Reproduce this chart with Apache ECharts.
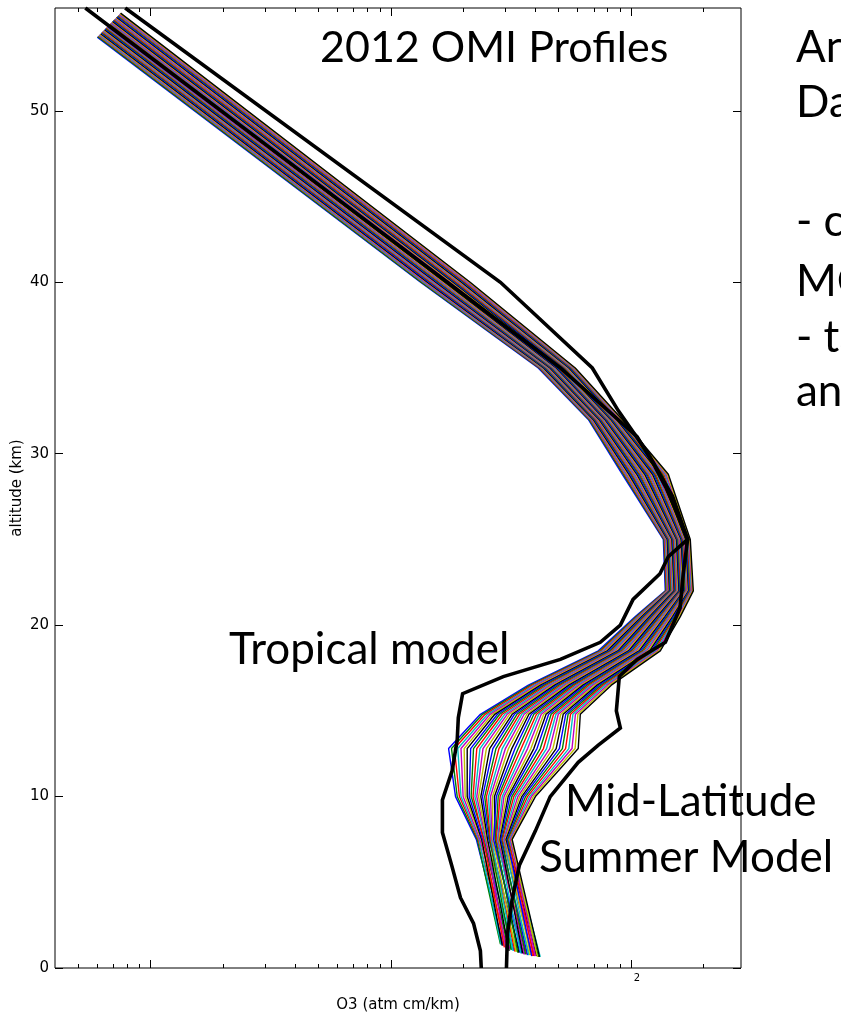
<!DOCTYPE html>
<html>
<head>
<meta charset="utf-8">
<title>2012 OMI Profiles</title>
<script src="https://cdn.jsdelivr.net/npm/echarts@6/dist/echarts.min.js"></script>
<style>
  html, body { margin: 0; padding: 0; background: #ffffff; overflow: hidden; }
  #chart { width: 841px; height: 1013px; }
</style>
</head>
<body>
<div id="chart"></div>
<script>
// ---- Ozone profiles, values in 1e-3 atm cm/km ----
const MILLI = 1e-3;

// Retrieval levels shared by all profiles (km)
const levelAlt = [7.5, 10, 12.8, 14.8, 16.5, 18.5, 20.5, 22, 25, 28.8, 32, 35, 40];

// Lowest and highest altitude of each profile (km)
const baseAlt = [1.3, 1.4, 1.2, 1.35, 1.1, 1.25, 1.3, 1.0, 1.15, 1.2, 1.05, 1.1, 0.95, 1.0, 0.9, 1.05, 0.95, 1.0, 0.8, 0.95, 0.9,
                 0.85, 0.9, 0.8, 0.85, 0.8, 0.75, 0.85, 0.75, 0.8, 0.7, 0.75, 0.7, 0.75, 0.7, 0.7, 0.65, 0.7, 0.65, 0.7, 0.65, 0.65];
const topAlt = [54.30, 54.33, 54.37, 54.40, 54.44, 54.47, 54.50, 54.54, 54.57, 54.61, 54.64, 54.68, 54.71, 54.74, 54.78, 54.81, 54.85,
                54.88, 54.91, 54.95, 54.98, 55.02, 55.05, 55.09, 55.12, 55.15, 55.19, 55.22, 55.26, 55.29, 55.32, 55.36, 55.39, 55.43,
                55.46, 55.49, 55.53, 55.56, 55.60, 55.63, 55.67, 55.70];

const o3Base = [2.94, 2.86, 3.05, 2.88, 3.14, 2.99, 2.91, 3.26, 3.08, 2.97, 3.20, 3.02, 3.35, 3.11, 3.45, 3.17, 3.29, 3.23, 3.58, 3.32, 3.41,
                3.51, 3.38, 3.68, 3.48, 3.61, 3.78, 3.54, 3.71, 3.64, 3.89, 3.75, 3.97, 3.82, 4.04, 3.86, 4.12, 3.93, 4.19, 4.00, 4.08, 4.16];
const o3L7 = [2.27, 2.29, 2.31, 2.33, 2.35, 2.38, 2.39, 2.41, 2.45, 2.43, 2.47, 2.49, 2.51, 2.53, 2.56, 2.58, 2.60, 2.62, 2.64, 2.66, 2.72,
              2.68, 2.73, 2.75, 2.78, 2.80, 2.82, 2.85, 2.87, 2.90, 2.92, 2.95, 2.97, 3.00, 3.02, 3.05, 3.07, 3.10, 3.12, 3.15, 3.18, 3.20];
const o3L10 = [1.86, 1.89, 1.93, 1.96, 2.00, 2.04, 2.08, 2.12, 2.16, 2.20, 2.24, 2.28, 2.32, 2.37, 2.41, 2.46, 2.50, 2.55, 2.60, 2.65, 2.70,
               2.75, 2.80, 2.85, 2.91, 2.96, 3.02, 3.08, 3.13, 3.19, 3.25, 3.31, 3.38, 3.44, 3.51, 3.57, 3.64, 3.71, 3.78, 3.85, 3.92, 4.00];
const o3L13 = [1.74, 1.79, 1.84, 1.90, 1.96, 2.02, 2.08, 2.15, 2.21, 2.28, 2.35, 2.42, 2.50, 2.58, 2.66, 2.74, 2.82, 2.91, 3.00, 3.09, 3.19,
               3.29, 3.39, 3.49, 3.60, 3.71, 3.83, 3.94, 4.06, 4.19, 4.32, 4.45, 4.59, 4.73, 4.88, 5.03, 5.18, 5.34, 5.51, 5.68, 5.85, 6.03];
const o3L15 = [2.36, 2.41, 2.47, 2.53, 2.59, 2.65, 2.71, 2.78, 2.84, 2.91, 2.98, 3.05, 3.12, 3.20, 3.27, 3.35, 3.43, 3.51, 3.59, 3.68, 3.76,
               3.85, 3.94, 4.04, 4.13, 4.23, 4.33, 4.43, 4.54, 4.65, 4.76, 4.87, 4.98, 5.10, 5.22, 5.35, 5.47, 5.60, 5.73, 5.87, 6.01, 6.15];
const o3L16 = [3.74, 3.81, 3.88, 3.96, 4.04, 4.12, 4.20, 4.28, 4.36, 4.45, 4.54, 4.63, 4.72, 4.81, 4.90, 5.00, 5.10, 5.20, 5.30, 5.40, 5.51,
               5.62, 5.73, 5.84, 5.95, 6.07, 6.19, 6.31, 6.43, 6.56, 6.69, 6.82, 6.95, 7.09, 7.23, 7.37, 7.52, 7.66, 7.81, 7.97, 8.12, 8.28];
const o3L18 = [7.31, 7.42, 7.52, 7.63, 7.75, 7.86, 7.97, 8.09, 8.21, 8.33, 8.45, 8.57, 8.70, 8.82, 8.95, 9.08, 9.22, 9.35, 9.49, 9.63, 9.77,
               9.91, 10.05, 10.20, 10.35, 10.50, 10.65, 10.81, 10.97, 11.13, 11.29, 11.45, 11.62, 11.79, 11.96, 12.14, 12.31, 12.49, 12.67, 12.86, 13.05, 13.24];
const o3L20 = [10.42, 10.53, 10.64, 10.75, 10.87, 10.98, 11.10, 11.22, 11.33, 11.45, 11.57, 11.70, 11.82, 11.95, 12.07, 12.20, 12.33, 12.46, 12.59, 12.73, 12.86,
               13.00, 13.13, 13.27, 13.41, 13.56, 13.70, 13.85, 13.99, 14.14, 14.29, 14.44, 14.59, 14.75, 14.90, 15.06, 15.22, 15.38, 15.54, 15.71, 15.87, 16.04];
const o3L22 = [13.89, 13.98, 14.07, 14.17, 14.26, 14.36, 14.45, 14.55, 14.64, 14.74, 14.83, 14.93, 15.03, 15.13, 15.23, 15.33, 15.43, 15.53, 15.63, 15.73, 15.84,
               15.94, 16.05, 16.15, 16.26, 16.36, 16.47, 16.58, 16.69, 16.80, 16.91, 17.02, 17.13, 17.24, 17.36, 17.47, 17.59, 17.70, 17.82, 17.94, 18.05, 18.17];
const o3L25 = [13.63, 13.72, 13.80, 13.89, 13.98, 14.07, 14.16, 14.25, 14.34, 14.43, 14.52, 14.61, 14.70, 14.80, 14.89, 14.99, 15.08, 15.18, 15.27, 15.37, 15.47,
               15.57, 15.66, 15.76, 15.86, 15.96, 16.07, 16.17, 16.27, 16.38, 16.48, 16.59, 16.69, 16.80, 16.90, 17.01, 17.12, 17.23, 17.34, 17.45, 17.56, 17.65];
const o3L29 = [9.20, 9.30, 9.40, 9.50, 9.60, 9.71, 9.81, 9.92, 10.03, 10.13, 10.24, 10.35, 10.47, 10.58, 10.69, 10.81, 10.93, 11.04, 11.16, 11.28, 11.41,
               11.53, 11.66, 11.78, 11.91, 12.04, 12.17, 12.30, 12.43, 12.57, 12.70, 12.84, 12.98, 13.12, 13.26, 13.41, 13.55, 13.70, 13.85, 14.00, 14.15, 14.30];
const o3L32 = [6.64, 6.69, 6.75, 6.80, 6.85, 6.91, 6.96, 7.02, 7.07, 7.13, 7.19, 7.24, 7.30, 7.36, 7.42, 7.48, 7.54, 7.60, 7.66, 7.72, 7.78,
               7.84, 7.91, 7.97, 8.03, 8.10, 8.16, 8.23, 8.29, 8.36, 8.43, 8.49, 8.56, 8.63, 8.70, 8.77, 8.84, 8.91, 8.98, 9.05, 9.13, 9.20];
const o3L35 = [4.11, 4.15, 4.18, 4.22, 4.26, 4.29, 4.33, 4.37, 4.41, 4.45, 4.48, 4.52, 4.56, 4.60, 4.64, 4.68, 4.72, 4.76, 4.81, 4.85, 4.89,
               4.93, 4.98, 5.02, 5.06, 5.11, 5.15, 5.20, 5.24, 5.29, 5.33, 5.38, 5.43, 5.47, 5.52, 5.57, 5.62, 5.67, 5.72, 5.77, 5.82, 5.86];
const o3L40 = [1.33, 1.34, 1.36, 1.37, 1.39, 1.41, 1.42, 1.44, 1.46, 1.47, 1.49, 1.51, 1.53, 1.54, 1.56, 1.58, 1.60, 1.62, 1.64, 1.66, 1.68,
               1.70, 1.72, 1.74, 1.76, 1.78, 1.80, 1.82, 1.84, 1.86, 1.88, 1.91, 1.93, 1.95, 1.97, 2.00, 2.02, 2.04, 2.07, 2.09, 2.12, 2.14];
const o3Top = [0.0600, 0.0603, 0.0607, 0.0610, 0.0613, 0.0616, 0.0620, 0.0623, 0.0626, 0.0630, 0.0633, 0.0637, 0.0640, 0.0644, 0.0647, 0.0651, 0.0654,
               0.0658, 0.0661, 0.0665, 0.0669, 0.0672, 0.0676, 0.0680, 0.0683, 0.0687, 0.0691, 0.0695, 0.0698, 0.0702, 0.0706, 0.0710, 0.0714, 0.0718,
               0.0722, 0.0726, 0.0730, 0.0734, 0.0738, 0.0742, 0.0746, 0.0750];

// Standard atmosphere models (altitude km / ozone 1e-3 atm cm/km)
const tropAlt = [0, 1, 2.6, 4.1, 5.9, 7.9, 9.8, 11.5, 13.3, 14.6, 16, 17, 18, 19, 20, 21.5, 23, 24, 25, 27.5, 30, 32.5, 35, 40, 56];
const tropO3 = [2.38, 2.36, 2.21, 1.95, 1.80, 1.64, 1.64, 1.80, 1.89, 1.91, 1.99, 2.94, 5.08, 7.45, 9.03, 10.2, 13.2, 14.3, 17.2, 14.9, 11.8, 8.86, 6.90, 2.86, 0.0784];
const mlsAlt = [0, 2, 4, 6, 8, 10, 12, 13, 14, 15, 17, 18, 19, 21, 23, 25, 26.5, 28, 29.5, 31, 35, 40, 56];
const mlsO3 = [3.03, 3.06, 3.20, 3.43, 4.00, 4.61, 6.03, 7.31, 9.03, 8.69, 8.94, 10.6, 13.9, 16.0, 16.5, 17.2, 15.6, 14.0, 12.3, 10.6, 5.08, 1.72, 0.0535];

// Axis ticks (atm cm/km and km)
const X_MIN = 4.0e-5;
const X_MAX = 2.87e-2;
const xMajorTicks = [1e-4, 1e-3, 1e-2];
const xMinorTicks = [5e-5, 6e-5, 7e-5, 8e-5, 9e-5, 2e-4, 3e-4, 4e-4, 5e-4, 6e-4, 7e-4, 8e-4, 9e-4,
                     2e-3, 3e-3, 4e-3, 5e-3, 6e-3, 7e-3, 8e-3, 9e-3, 2e-2];
const xTickLabels = [1e-2];
const yTicks = [0, 10, 20, 30, 40, 50];

// Classic line colour cycle
const cycle = ['#0000ff', '#008000', '#ff0000', '#00bfbf', '#bf00bf', '#bfbf00', '#000000'];

const levelO3 = [o3L7, o3L10, o3L13, o3L15, o3L16, o3L18, o3L20, o3L22, o3L25, o3L29, o3L32, o3L35, o3L40];

const profileSeries = baseAlt.map((b, i) => {
  const pts = [[o3Base[i] * MILLI, b]];
  levelAlt.forEach((a, k) => pts.push([levelO3[k][i] * MILLI, a]));
  pts.push([o3Top[i] * MILLI, topAlt[i]]);
  return {
    type: 'line', data: pts, xAxisIndex: 0, yAxisIndex: 0,
    symbol: 'none', silent: true, z: 2,
    lineStyle: { width: 1.4, color: cycle[i % cycle.length] }
  };
});

function modelSeries(alt, o3) {
  return {
    type: 'line', data: alt.map((a, k) => [o3[k] * MILLI, a]), xAxisIndex: 0, yAxisIndex: 0,
    symbol: 'none', silent: true, z: 3,
    lineStyle: { width: 3.6, color: '#000000', join: 'miter' }
  };
}

const tickFont = { fontFamily: 'DejaVu Sans', color: '#000000' };
const xBase = {
  type: 'log', logBase: 10, min: X_MIN, max: X_MAX, gridIndex: 0,
  axisLine: { show: false }, splitLine: { show: false }, minorTick: { show: false }
};
const yBase = {
  type: 'value', min: 0, max: 56, gridIndex: 0,
  axisLine: { show: false }, splitLine: { show: false }
};

const textFont = '44px Lato';

const option = {
  backgroundColor: '#ffffff',
  animation: false,
  grid: {
    left: 55, top: 8, width: 686, height: 960,
    containLabel: false, outerBoundsMode: 'none',
    show: true, borderColor: '#000000', borderWidth: 1, backgroundColor: 'transparent'
  },
  xAxis: [
    Object.assign({}, xBase, {
      position: 'bottom',
      axisTick: { inside: true, length: 8, customValues: xMajorTicks, lineStyle: { color: '#000000' } },
      axisLabel: Object.assign({ customValues: xTickLabels, fontSize: 10, margin: 5, padding: [0, 0, 0, 12],
        formatter: v => String(Math.round(-Math.log10(v))) }, tickFont),
      name: 'O3 (atm cm/km)', nameLocation: 'middle', nameGap: 30, nameMoveOverlap: false,
      nameTextStyle: { fontFamily: 'DejaVu Sans', fontSize: 15, color: '#000000' }
    }),
    Object.assign({}, xBase, {
      position: 'bottom',
      axisTick: { inside: true, length: 4, customValues: xMinorTicks, lineStyle: { color: '#000000' } },
      axisLabel: { show: false }
    }),
    Object.assign({}, xBase, {
      position: 'top',
      axisTick: { inside: true, length: 8, customValues: xMajorTicks, lineStyle: { color: '#000000' } },
      axisLabel: { show: false }
    }),
    Object.assign({}, xBase, {
      position: 'top',
      axisTick: { inside: true, length: 4, customValues: xMinorTicks, lineStyle: { color: '#000000' } },
      axisLabel: { show: false }
    })
  ],
  yAxis: [
    Object.assign({}, yBase, {
      position: 'left',
      axisTick: { inside: true, length: 8, customValues: yTicks, lineStyle: { color: '#000000' } },
      axisLabel: Object.assign({ customValues: yTicks, fontSize: 15, margin: 6 }, tickFont),
      name: 'altitude (km)', nameLocation: 'middle', nameGap: 30, nameRotate: 90, nameMoveOverlap: false,
      nameTextStyle: { fontFamily: 'DejaVu Sans', fontSize: 15, color: '#000000' }
    }),
    Object.assign({}, yBase, {
      position: 'right',
      axisTick: { inside: true, length: 8, customValues: yTicks, lineStyle: { color: '#000000' } },
      axisLabel: { show: false }
    })
  ],
  series: profileSeries.concat([modelSeries(mlsAlt, mlsO3), modelSeries(tropAlt, tropO3)]),
  graphic: [
    { type: 'text', x: 320, y: 48, z: 10, style: { text: '2012 OMI Profiles', font: '43px Lato', fill: '#000000', verticalAlign: 'middle' } },
    { type: 'text', x: 229, y: 650, z: 10, style: { text: 'Tropical model', font: textFont, fill: '#000000', verticalAlign: 'middle' } },
    { type: 'text', x: 565, y: 802, z: 10, style: { text: 'Mid-Latitude', font: textFont, fill: '#000000', verticalAlign: 'middle' } },
    { type: 'text', x: 539, y: 858, z: 10, style: { text: 'Summer Model', font: textFont, fill: '#000000', verticalAlign: 'middle' } },
    { type: 'text', x: 796, y: 48, z: 10, style: { text: 'Annual', font: textFont, fill: '#000000', verticalAlign: 'middle' } },
    { type: 'text', x: 796, y: 103, z: 10, style: { text: 'Data', font: textFont, fill: '#000000', verticalAlign: 'middle' } },
    { type: 'text', x: 796, y: 222, z: 10, style: { text: '- compare', font: textFont, fill: '#000000', verticalAlign: 'middle' } },
    { type: 'text', x: 796, y: 282, z: 10, style: { text: 'MODTRAN', font: textFont, fill: '#000000', verticalAlign: 'middle' } },
    { type: 'text', x: 796, y: 338, z: 10, style: { text: '- take', font: textFont, fill: '#000000', verticalAlign: 'middle' } },
    { type: 'text', x: 796, y: 392, z: 10, style: { text: 'and', font: textFont, fill: '#000000', verticalAlign: 'middle' } }
  ]
};

const chart = echarts.init(document.getElementById('chart'), null, { renderer: 'canvas' });
chart.setOption(option);
</script>
</body>
</html>
